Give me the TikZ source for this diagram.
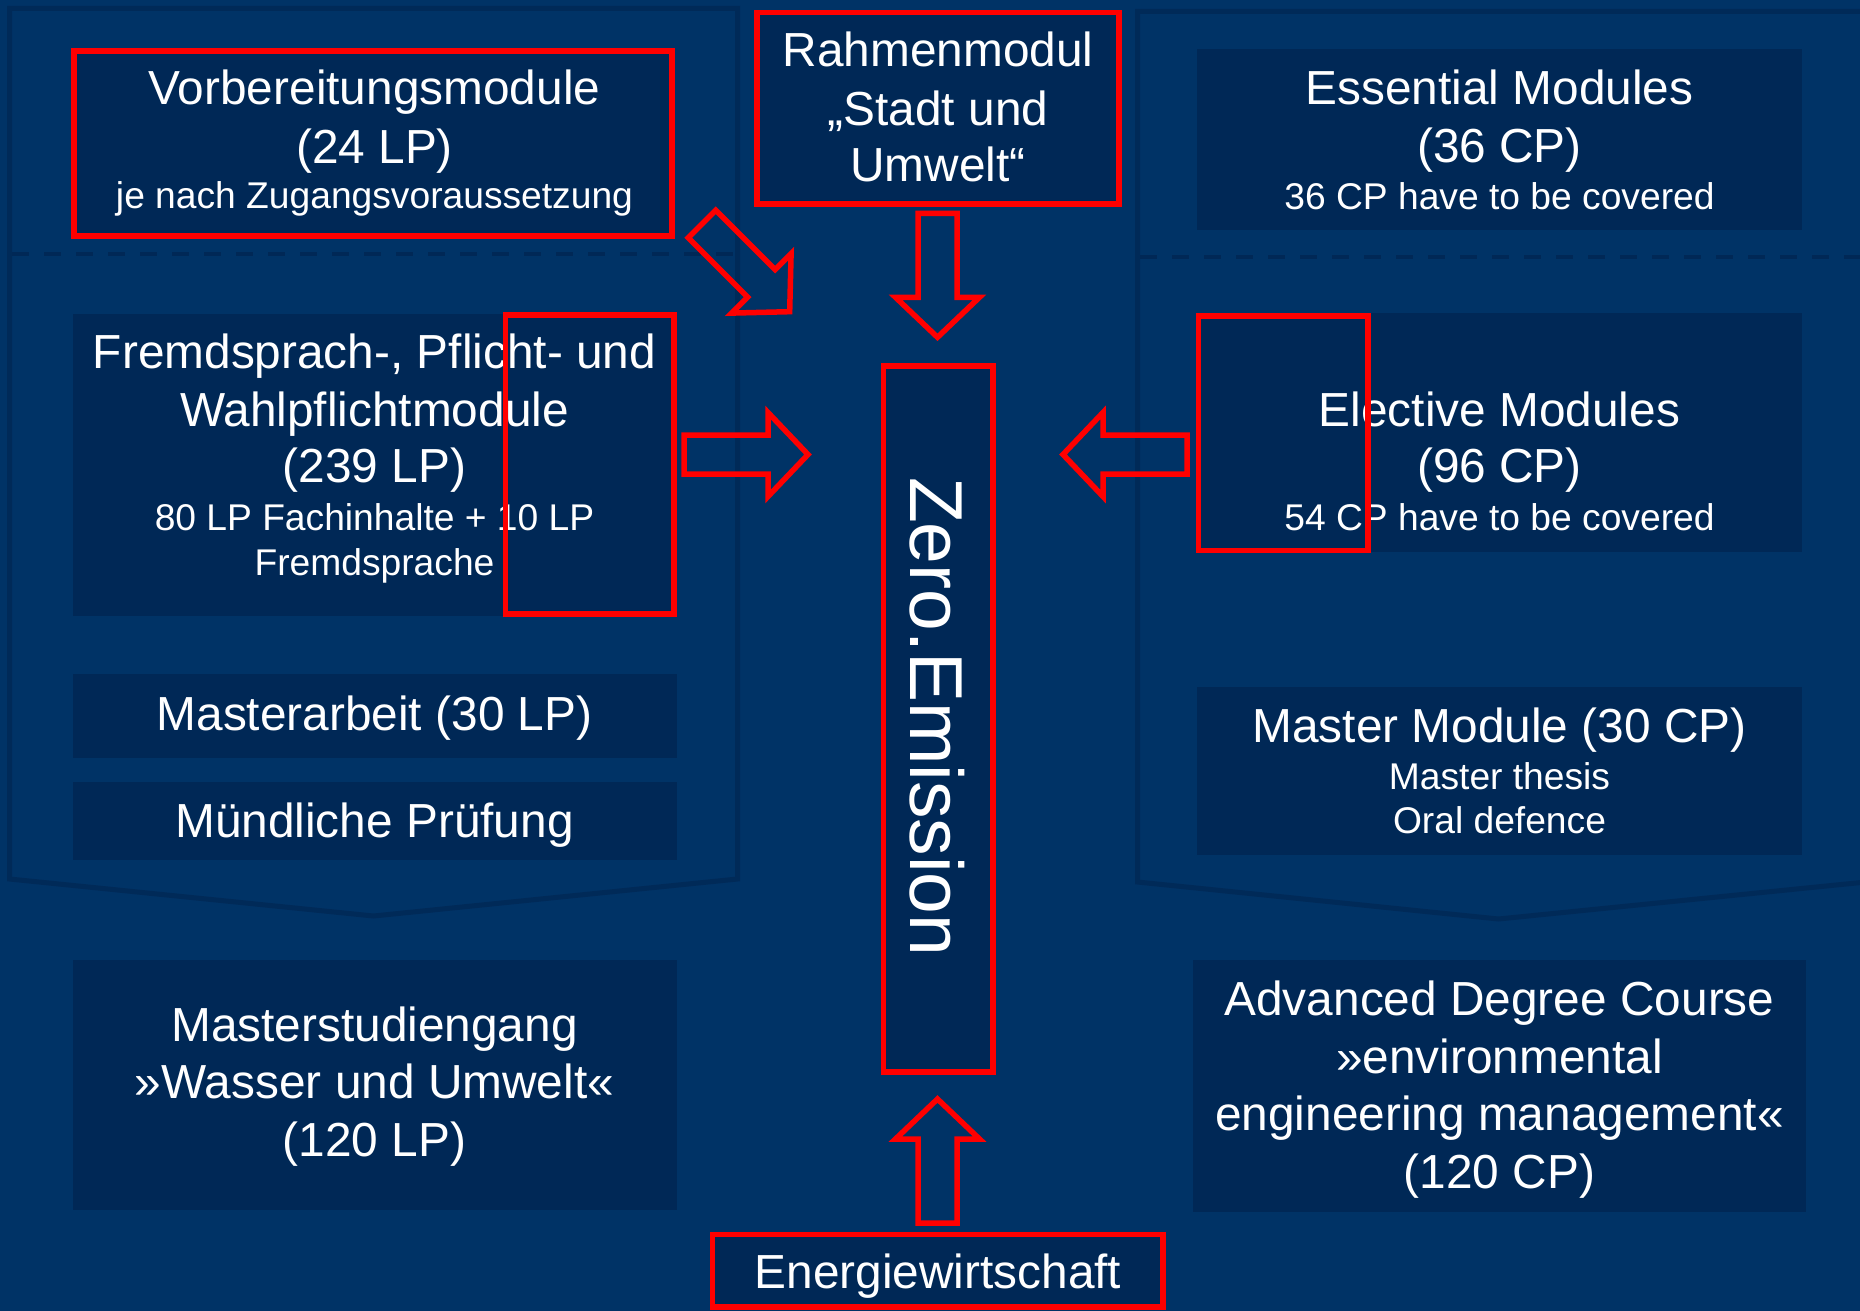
\documentclass[tikz,border=0pt]{standalone}
\usepackage{fontspec}
\setmainfont{Liberation Sans}
\definecolor{bgc}{RGB}{0,51,102}
\definecolor{boxc}{RGB}{0,40,86}
\definecolor{panc}{RGB}{0,42,88}
\definecolor{redc}{RGB}{255,0,0}
\tikzset{
  panel/.style={draw=panc, line width=5pt, line join=miter},
  divider/.style={draw=boxc, line width=4pt, dash pattern=on 17pt off 15pt},
  darkbox/.style={fill=boxc, inner sep=0pt, outer sep=0pt, anchor=north west},
  redbox/.style={darkbox, draw=redc, line width=5.5pt},
  redframe/.style={draw=redc, line width=5.5pt, inner sep=0pt, outer sep=0pt, anchor=north west},
  big/.style={font=\fontsize{47.8}{56}\selectfont, text=white, anchor=base, inner sep=0pt},
  small/.style={font=\fontsize{37.2}{45}\selectfont, text=white, anchor=base, inner sep=0pt},
  huge/.style={font=\fontsize{75}{80}\selectfont, text=white, anchor=base, inner sep=0pt, rotate=-90},
  arrowline/.style={draw=redc, line width=5.5pt, line join=miter},
  blockarrow/.pic={\draw[arrowline] (0,-19.5) -- (84,-19.5) -- (84,-42) -- (124,0) -- (84,42) -- (84,19.5) -- (0,19.5) -- cycle;}
}
\begin{document}
\begin{tikzpicture}[x=1pt,y=-1pt]
\useasboundingbox[fill=bgc] (0,0) rectangle (1860,1311);

% panels
\draw[panel] (9.5,8.5) -- (737.5,8.5) -- (737.5,879) -- (373.5,916) -- (9.5,879) -- cycle;
\draw[panel] (1137.5,11.5) -- (1866,11.5) -- (1866,882) -- (1498.5,919) -- (1137.5,882) -- cycle;
\draw[divider] (12,254) -- (735,254);
\draw[divider] (1140,257) -- (1860,257);

% dark boxes
\node[darkbox, minimum width=604pt, minimum height=302.5pt] (fremd) at (72.5,313.5) {};
\node[darkbox, minimum width=604pt, minimum height=83.5pt] (marb) at (72.5,674) {};
\node[darkbox, minimum width=604pt, minimum height=78pt] (muend) at (72.5,782) {};
\node[darkbox, minimum width=604pt, minimum height=249.5pt] (mstud) at (72.5,960) {};
\node[darkbox, minimum width=605pt, minimum height=180pt] (ess) at (1197,49.5) {};
\node[darkbox, minimum width=604.5pt, minimum height=239pt] (elec) at (1197.5,312.5) {};
\node[darkbox, minimum width=605pt, minimum height=168.5pt] (mmod) at (1197,686.5) {};
\node[darkbox, minimum width=613pt, minimum height=252.5pt] (adv) at (1193,959.5) {};

% red filled boxes
\node[redbox, minimum width=598pt, minimum height=185pt] (vor) at (74,51) {};
\node[redbox, minimum width=362pt, minimum height=191.5pt] (rahmen) at (757,12.5) {};
\node[redbox, minimum width=109.5pt, minimum height=706pt] (zero) at (883.5,366) {};
\node[redbox, minimum width=450.5pt, minimum height=72.5pt] (energie) at (712.5,1234.5) {};

% texts
\node[big] (vorA) at (374.5,105) {Vorbereitungsmodule};
\node[big] (vorB) at (374.5,163.3) {(24 LP)};
\node[small] (vorC) at (374.5,208.3) {je nach Zugangsvoraussetzung};

\node[big] (rahA) at (938,66.7) {Rahmenmodul};
\node[big] (rahB) at (938,125) {„Stadt und};
\node[big] (rahC) at (938,181.7) {Umwelt“};

\node[big] (essA) at (1499.5,105) {Essential Modules};
\node[big] (essB) at (1499.5,162.7) {(36 CP)};
\node[small] (essC) at (1499.5,209.3) {36 CP have to be covered};

\node[big] (freA) at (374.5,368.8) {Fremdsprach-, Pflicht- und};
\node[big] (freB) at (374.5,426.2) {Wahlpflichtmodule};
\node[big] (freC) at (374.5,482.8) {(239 LP)};
\node[small] (freD) at (374.5,530.7) {80 LP Fachinhalte + 10 LP};
\node[small] (freE) at (374.5,575.4) {Fremdsprache};

\node[big] (elcA) at (1499.5,426.6) {Elective Modules};
\node[big] (elcB) at (1499.5,482.8) {(96 CP)};
\node[small] (elcC) at (1499.5,530.7) {54 CP have to be covered};

\node[big] (marbA) at (374.5,730.8) {Masterarbeit (30 LP)};
\node[big] (muendA) at (374.5,837.6) {Mündliche Prüfung};

\node[big] (mmodA) at (1499.5,742.3) {Master Module (30 CP)};
\node[small] (mmodB) at (1499.5,789) {Master thesis};
\node[small] (mmodC) at (1499.5,833.8) {Oral defence};

\node[big] (mstA) at (374.5,1041.7) {Masterstudiengang};
\node[big] (mstB) at (374.5,1098.3) {»Wasser und Umwelt«};
\node[big] (mstC) at (374.5,1156.7) {(120 LP)};

\node[big] (advA) at (1499.5,1015) {Advanced Degree Course};
\node[big] (advB) at (1499.5,1073.3) {»environmental};
\node[big] (advC) at (1499.5,1130) {engineering management«};
\node[big] (advD) at (1499.5,1188.3) {(120 CP)};

\node[big] (engA) at (938,1288.3) {Energiewirtschaft};

\node[huge] (zeroA) at (910,716.7) {Zero.Emission};

% red overlay frames
\node[redframe, minimum width=168.5pt, minimum height=299pt] (ovl) at (505.5,315) {};
\node[redframe, minimum width=169.5pt, minimum height=234.5pt] (ovr) at (1198.5,316) {};

% block arrows
\pic[rotate=-45] at (702,224) {blockarrow};
\pic[rotate=-90] at (937.5,213.3) {blockarrow};
\pic at (684,454.5) {blockarrow};
\pic[rotate=180] at (1187,454.5) {blockarrow};
\pic[rotate=90] at (937.5,1223) {blockarrow};
\end{tikzpicture}
\end{document}
